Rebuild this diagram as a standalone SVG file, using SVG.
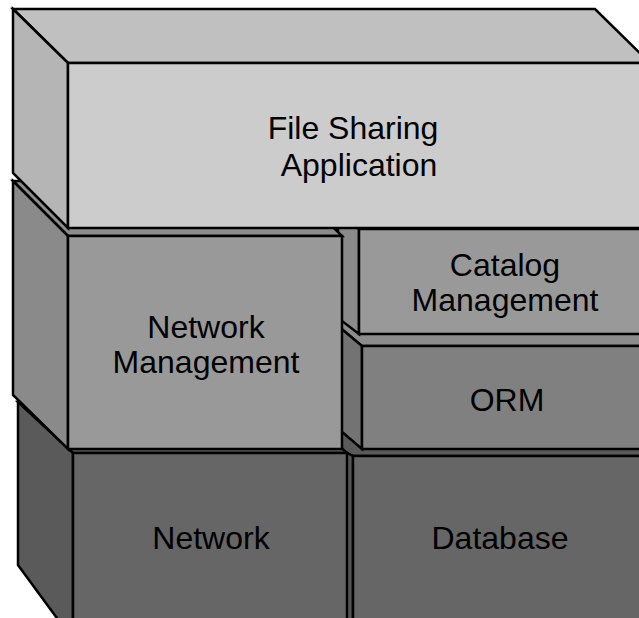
<svg xmlns="http://www.w3.org/2000/svg" width="639" height="618" viewBox="0 0 639 618">
<style>
  .e { stroke: #000; stroke-width: 2.5; stroke-linejoin: miter; }
  .t { font-family: "Liberation Sans", Arial, Helvetica, sans-serif; font-size: 32px; fill: #000; text-anchor: middle; }
</style>
<rect x="0" y="0" width="639" height="618" fill="#fff"/>
<g id="database">
  <polygon class="e" points="338,428 660,428 660,456 353,456 338,448.5" fill="#5a5a5a"/>
  <polygon class="e" points="338,448.5 353,456 353,640 338,640" fill="#555555"/>
  <rect class="e" x="353" y="456" width="320" height="190" fill="#666666"/>
  <text class="t" x="500" y="549">Database</text>
</g>
<g id="orm">
  <polygon class="e" points="338,318 660,318 660,346 362,346 338,326" fill="#8c8c8c"/>
  <polygon class="e" points="338,326 362,346 362,449 338,428.5" fill="#737373"/>
  <rect class="e" x="362" y="346" width="310" height="103" fill="#808080"/>
  <text class="t" x="507" y="411">ORM</text>
</g>
<g id="catalog-management">
  <polygon class="e" points="338,214 359,229 359,334 338,318" fill="#8a8a8a"/>
  <rect class="e" x="359" y="229" width="310" height="105" fill="#999999"/>
  <text class="t" x="505" y="276">Catalog</text>
  <text class="t" x="505" y="311">Management</text>
</g>
<g id="network">
  <polygon class="e" points="18,402 292,402 347,453 73,453" fill="#5f5f5f"/>
  <polygon class="e" points="18,402 73,453 73,640 18,565" fill="#5a5a5a"/>
  <rect class="e" x="73" y="453" width="274" height="190" fill="#666666"/>
  <text class="t" x="211" y="549">Network</text>
</g>
<g id="network-management">
  <polygon class="e" points="13,181 287,181 342,236 68,236" fill="#8c8c8c"/>
  <polygon class="e" points="13,181 68,236 68,449 13,395" fill="#8a8a8a"/>
  <rect class="e" x="68" y="236" width="274" height="213" fill="#999999"/>
  <text class="t" x="206" y="338">Network</text>
  <text class="t" x="206" y="373">Management</text>
</g>
<g id="file-sharing-application">
  <polygon class="e" points="13,9 595,9 650,63 68,63" fill="#c0c0c0"/>
  <polygon class="e" points="13,9 68,63 68,228 13,173" fill="#b5b5b5"/>
  <rect class="e" x="68" y="63" width="610" height="165" fill="#cccccc"/>
  <text class="t" x="353" y="139">File Sharing</text>
  <text class="t" x="359" y="176">Application</text>
</g>
</svg>
